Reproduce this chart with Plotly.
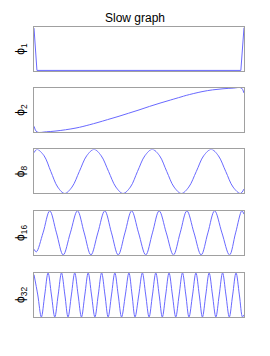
import plotly.graph_objects as go

# ---- data (x: fraction of node index, y: normalised value) ----
phi1_x = [0.000, 0.014, 0.200, 0.400, 0.600, 0.800, 0.985, 1.000]
phi1_y = [0.95, -0.97, -0.97, -0.97, -0.97, -0.97, -0.97, 0.97]

phi2_x = [0.000, 0.014, 0.060, 0.100, 0.150, 0.200, 0.233, 0.300, 0.350, 0.400, 0.450,
          0.500, 0.550, 0.600, 0.650, 0.700, 0.725, 0.800, 0.850, 0.900, 0.948, 0.987, 1.000]
phi2_y = [-0.74, -1.00, -0.99, -0.96, -0.90, -0.82, -0.75, -0.58, -0.44, -0.30, -0.15,
          0.00, 0.16, 0.31, 0.45, 0.59, 0.66, 0.83, 0.91, 0.96, 0.99, 1.00, 0.77]

phi8_x = [0.000, 0.014, 0.048, 0.080, 0.113, 0.146, 0.181, 0.216, 0.251, 0.286, 0.320,
          0.355, 0.390, 0.424, 0.459, 0.493, 0.528, 0.563, 0.598, 0.632, 0.667, 0.702,
          0.737, 0.773, 0.808, 0.844, 0.878, 0.913, 0.948, 0.983, 1.000]
phi8_y = [0.85, 1.00, 0.71, 0.00, -0.71, -1.00, -0.71, 0.00, 0.71, 1.00, 0.71,
          0.00, -0.71, -1.00, -0.71, 0.00, 0.71, 1.00, 0.71, 0.00, -0.71, -1.00,
          -0.71, 0.00, 0.71, 1.00, 0.71, 0.00, -0.71, -1.00, -0.80]

phi16_x = [0.000, 0.011, 0.043, 0.075, 0.107, 0.139, 0.173, 0.207, 0.239, 0.271, 0.304,
           0.337, 0.369, 0.401, 0.433, 0.465, 0.498, 0.532, 0.564, 0.596, 0.630, 0.664,
           0.696, 0.728, 0.762, 0.796, 0.828, 0.860, 0.895, 0.931, 0.960, 0.990, 1.000]
phi16_y = [-0.74, -0.86, 0.00, 1.00, 0.00, -1.00, 0.00, 1.00, 0.00, -1.00, 0.00,
           1.00, 0.00, -1.00, 0.00, 1.00, 0.00, -1.00, 0.00, 1.00, 0.00, -1.00,
           0.00, 1.00, 0.00, -1.00, 0.00, 1.00, 0.00, -1.00, 0.00, 1.00, 0.85]

phi32_x = [0.000, 0.018, 0.035, 0.051, 0.067, 0.083, 0.099, 0.115, 0.131, 0.147,
           0.162, 0.178, 0.194, 0.210, 0.226, 0.242, 0.258, 0.274, 0.290, 0.306,
           0.322, 0.338, 0.353, 0.369, 0.385, 0.401, 0.417, 0.435, 0.452, 0.467,
           0.481, 0.499, 0.516, 0.532, 0.548, 0.564, 0.580, 0.596, 0.611, 0.627,
           0.643, 0.659, 0.675, 0.691, 0.707, 0.723, 0.738, 0.755, 0.771, 0.787,
           0.802, 0.818, 0.834, 0.850, 0.866, 0.882, 0.898, 0.914, 0.930, 0.946,
           0.962, 0.978, 0.993, 1.000]
phi32_y = [0.92, 0.00, -1.00, 0.00, 1.00, 0.00, -1.00, 0.00, 1.00, 0.00,
           -1.00, 0.00, 1.00, 0.00, -1.00, 0.00, 1.00, 0.00, -1.00, 0.00,
           1.00, 0.00, -1.00, 0.00, 1.00, 0.00, -1.00, 0.00, 1.00, 0.00,
           -1.00, 0.00, 1.00, 0.00, -1.00, 0.00, 1.00, 0.00, -1.00, 0.00,
           1.00, 0.00, -1.00, 0.00, 1.00, 0.00, -1.00, 0.00, 1.00, 0.00,
           -1.00, 0.00, 1.00, 0.00, -1.00, 0.00, 1.00, 0.00, -1.00, 0.00,
           1.00, 0.00, -1.00, -0.90]

labels = ["ϕ<sub>1</sub>", "ϕ<sub>2</sub>", "ϕ<sub>8</sub>", "ϕ<sub>16</sub>", "ϕ<sub>32</sub>"]
series = [(phi1_x, phi1_y, "linear"), (phi2_x, phi2_y, "spline"), (phi8_x, phi8_y, "spline"),
          (phi16_x, phi16_y, "spline"), (phi32_x, phi32_y, "spline")]
title_text = "Slow graph"

domains = [[0.848, 1.0], [0.638, 0.790], [0.426, 0.578], [0.214, 0.366], [0.0, 0.152]]

fig = go.Figure()
line_col = "rgb(105,105,255)"
frame_col = "#a0a0a0"
for i, ((xs, ys, shape), lab, dom) in enumerate(zip(series, labels, domains)):
    n = "" if i == 0 else str(i + 1)
    fig.add_trace(go.Scatter(x=xs, y=ys, mode="lines",
                             line=dict(color=line_col, width=1, shape=shape, smoothing=1.0),
                             xaxis="x" + n, yaxis="y" + n, showlegend=False, hoverinfo="skip"))
    fig.layout["xaxis" + n] = dict(domain=[0, 1], range=[0, 1], anchor="y" + n,
                                   showline=True, mirror=True, linecolor=frame_col, linewidth=1,
                                   showgrid=False, zeroline=False, ticks="", showticklabels=False)
    fig.layout["yaxis" + n] = dict(domain=dom, range=[-1, 1], anchor="x" + n,
                                   showline=True, mirror=True, linecolor=frame_col, linewidth=1,
                                   showgrid=False, zeroline=False, ticks="", showticklabels=False,
                                   title=dict(text=lab, standoff=5,
                                              font=dict(family="Liberation Sans, Arial", size=12, color="#000")))

fig.update_layout(
    width=270, height=356,
    margin=dict(l=34, r=26, t=27, b=39),
    paper_bgcolor="white", plot_bgcolor="white",
    title=dict(text=title_text, x=0.5, xanchor="center", y=1 - 18 / 356, yanchor="middle",
               font=dict(family="Liberation Sans, Arial", size=12, color="#000")),
)

fig.write_html("out.html",
               config={"displayModeBar": False, "staticPlot": True},
               post_script="document.body.style.margin='0';document.body.style.padding='0';")
